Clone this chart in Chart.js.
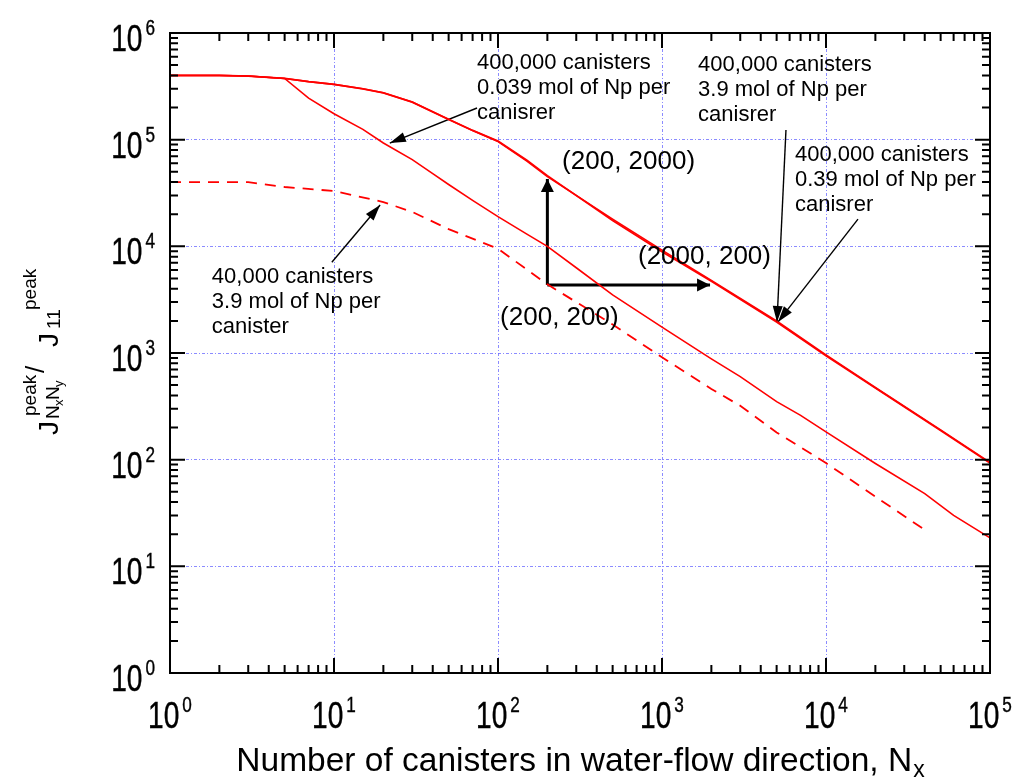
<!DOCTYPE html>
<html>
<head>
<meta charset="utf-8">
<script src="https://cdn.jsdelivr.net/npm/chart.js@4.4.1/dist/chart.umd.min.js"></script>
<style>
	html, body { margin: 0; padding: 0; background: #fff; }
	#wrap { width: 1015px; height: 777px; }
</style>
</head>
<body>
<div id="wrap"><canvas id="chart"></canvas></div>
<script>
// Peak release ratio vs. number of canisters along the water-flow direction
const nxHigh = [1, 2, 3, 5, 7, 10, 15, 20, 30, 50, 70, 100, 150, 200, 500, 1000, 2000, 5000, 10000, 20000, 50000, 100000]
const peak400k_3_9 = [4.0e5, 4.0e5, 3.95e5, 3.75e5, 3.5e5, 3.3e5, 3.0e5, 2.75e5, 2.25e5, 1.55e5, 1.22e5, 9.7e4, 6.4e4, 4.6e4, 1.75e4, 8.9e3, 4.7e3, 1.95e3, 940, 470, 188, 93]
const peak400k_0_39 = [4.0e5, 4.0e5, 3.95e5, 3.75e5, 3.5e5, 3.3e5, 3.0e5, 2.75e5, 2.25e5, 1.55e5, 1.22e5, 9.6e4, 6.3e4, 4.5e4, 1.8e4, 9.2e3, 4.8e3, 2.0e3, 960, 475, 190, 94]

const nxLow = [1, 2, 3, 5, 7, 10, 15, 20, 30, 40, 50, 70, 100, 150, 200, 300, 500, 1000, 2000, 3000, 5000, 7000, 10000, 20000, 40000, 60000, 100000]
const peak400k_0_039 = [4.0e5, 4.0e5, 3.95e5, 3.75e5, 2.45e5, 1.75e5, 1.25e5, 9.3e4, 6.5e4, 4.8e4, 3.8e4, 2.7e4, 1.9e4, 1.3e4, 1.0e4, 6.3e3, 3.5e3, 1.75e3, 880, 600, 350, 260, 182, 92, 48, 30, 18.5]

const nx40k = [1, 3, 5, 10, 20, 30, 50, 100, 200, 500, 1000, 2000, 3000, 5000, 10000, 20000, 40000]
const peak40k_3_9 = [4.0e4, 4.0e4, 3.6e4, 3.3e4, 2.6e4, 2.1e4, 1.45e4, 9.5e3, 4.4e3, 1.85e3, 910, 460, 320, 180, 93, 45, 22]

const xTickValues = [1, 10, 100, 1000, 10000, 100000]
const yTickValues = [1, 10, 100, 1000, 10000, 100000, 1000000]

// callouts: text lines, anchored at [Nx, J] of the first line (left edge)
const noteLines = [
	['400,000 canisters', '0.039 mol of Np per', 'canisrer'],
	['400,000 canisters', '3.9 mol of Np per', 'canisrer'],
	['400,000 canisters', '0.39 mol of Np per', 'canisrer'],
	['40,000 canisters', '3.9 mol of Np per', 'canister'],
]
const noteAnchors = [[74.5, 5.2e5], [1660, 5.0e5], [6470, 7.2e4], [1.8, 5160]]
const pairLabels = ['(200, 2000)', '(2000, 200)', '(200, 200)']
const pairAnchors = [[246, 6.2e4], [714, 7.9e3], [103, 2130]]

// leader arrows: [from, to] in data space
const leaderArrows = [
	[[74.5, 1.98e5], [21.9, 9.3e4]],
	[[5700, 1.23e5], [5025, 1955]],
	[[15670, 1.8e4], [5100, 1955]],
	[[9.7, 7.1e3], [19.1, 2.44e4]],
]
const stepArrows = [
	[[200, 4340], [200, 4.28e4]],
	[[200, 4340], [1963, 4340]],
]

const FONT = '"Liberation Sans", Arial, Helvetica, sans-serif'
const zip = (xs, ys) => xs.map((x, i) => ({ x, y: ys[i] }))
const seg = (pair) => pair.map(([x, y]) => ({ x, y }))

const datasets = [
	{ data: zip(nxLow, peak400k_0_039), borderColor: '#ff0000', borderWidth: 1.6 },
	{ data: zip(nx40k, peak40k_3_9), borderColor: '#ff0000', borderWidth: 1.8, borderDash: [11, 8] },
	{ data: zip(nxHigh, peak400k_0_39), borderColor: '#ff0000', borderWidth: 1.6 },
	{ data: zip(nxHigh, peak400k_3_9), borderColor: '#ff0000', borderWidth: 1.8 },
]
leaderArrows.forEach((a) => {
	datasets.push({ data: seg(a), borderColor: '#000', borderWidth: 1.4, arrow: { len: 16, half: 5 } })
})
stepArrows.forEach((a) => {
	datasets.push({ data: seg(a), borderColor: '#000', borderWidth: 3, arrow: { len: 13, half: 6.5 } })
})
datasets.forEach((d) => {
	d.pointRadius = 0
	d.tension = 0
	d.fill = false
})

const SQUEEZE = 0.78

function powLabel(ctx, exp, x, y, align) {
	ctx.save()
	ctx.font = `36px ${FONT}`
	const wBase = ctx.measureText('10').width * SQUEEZE
	ctx.font = `22px ${FONT}`
	const wExp = ctx.measureText(String(exp)).width * SQUEEZE
	const gap = 3
	const total = wBase + gap + wExp
	const left = align === 'center' ? x - total / 2 : x - total
	ctx.translate(left, y)
	ctx.scale(SQUEEZE, 1)
	ctx.fillStyle = '#000'
	ctx.strokeStyle = '#000'
	ctx.lineWidth = 0.4
	ctx.textAlign = 'left'
	ctx.textBaseline = 'alphabetic'
	ctx.font = `36px ${FONT}`
	ctx.fillText('10', 0, 0)
	ctx.strokeText('10', 0, 0)
	ctx.font = `22px ${FONT}`
	ctx.fillText(String(exp), (wBase + gap) / SQUEEZE, -16)
	ctx.strokeText(String(exp), (wBase + gap) / SQUEEZE, -16)
	ctx.restore()
}

function drawArrowHead(ctx, p0, p1, len, half, color) {
	const ang = Math.atan2(p1.y - p0.y, p1.x - p0.x)
	ctx.save()
	ctx.translate(p1.x, p1.y)
	ctx.rotate(ang)
	ctx.fillStyle = color
	ctx.beginPath()
	ctx.moveTo(0, 0)
	ctx.lineTo(-len, -half)
	ctx.lineTo(-len, half)
	ctx.closePath()
	ctx.fill()
	ctx.restore()
}

const framePlugin = {
	id: 'frame',
	afterDatasetsDraw(chart) {
		const { ctx, chartArea: a, scales } = chart
		const xs = scales.x
		const ys = scales.y

		// arrow heads on the annotation segments
		chart.data.datasets.forEach((d, i) => {
			if (!d.arrow) return
			const pts = chart.getDatasetMeta(i).data
			drawArrowHead(ctx, pts[0], pts[1], d.arrow.len, d.arrow.half, d.borderColor)
		})

		// box and inward ticks on all four sides
		ctx.save()
		ctx.strokeStyle = '#000'
		ctx.lineWidth = 2
		ctx.strokeRect(a.left, a.top, a.right - a.left, a.bottom - a.top)
		ctx.beginPath()
		for (let k = 0; k < 5; k++) {
			for (let m = 1; m <= 9; m++) {
				const px = xs.getPixelForValue(m * Math.pow(10, k))
				const len = m === 1 ? 15 : 8
				ctx.moveTo(px, a.bottom)
				ctx.lineTo(px, a.bottom - len)
				ctx.moveTo(px, a.top)
				ctx.lineTo(px, a.top + len)
			}
		}
		for (let k = 0; k < 6; k++) {
			for (let m = 1; m <= 9; m++) {
				const py = ys.getPixelForValue(m * Math.pow(10, k))
				const len = m === 1 ? 15 : 8
				ctx.moveTo(a.left, py)
				ctx.lineTo(a.left + len, py)
				ctx.moveTo(a.right, py)
				ctx.lineTo(a.right - len, py)
			}
		}
		ctx.stroke()
		ctx.restore()

		// tick labels
		xTickValues.forEach((v) => {
			powLabel(ctx, Math.round(Math.log10(v)), xs.getPixelForValue(v), a.bottom + 55, 'center')
		})
		yTickValues.forEach((v) => {
			powLabel(ctx, Math.round(Math.log10(v)), a.left - 15, ys.getPixelForValue(v) + 18, 'right')
		})

		ctx.save()
		ctx.fillStyle = '#000'
		ctx.textBaseline = 'alphabetic'
		ctx.textAlign = 'left'

		// x axis title with subscript
		const title = 'Number of canisters in water-flow direction, N'
		ctx.font = `33.5px ${FONT}`
		const wt = ctx.measureText(title).width
		ctx.font = `23px ${FONT}`
		const ws = ctx.measureText('x').width
		const tx = (a.left + a.right) / 2 - (wt + ws) / 2
		ctx.font = `33.5px ${FONT}`
		ctx.fillText(title, tx, a.bottom + 98)
		ctx.font = `23px ${FONT}`
		ctx.fillText('x', tx + wt + 1, a.bottom + 104)

		// y axis title: J^peak_{NxNy} / J^peak_11, rotated
		ctx.save()
		ctx.translate(58, (a.top + a.bottom) / 2 + 82)
		ctx.rotate(-Math.PI / 2)
		ctx.font = `28px ${FONT}`
		ctx.fillText('J', 0, 0)
		ctx.font = `19px ${FONT}`
		ctx.fillText('peak', 19, -22)
		ctx.fillText('N', 16, 1)
		ctx.fillText('N', 35, 1)
		ctx.font = `13px ${FONT}`
		ctx.fillText('x', 29, 5)
		ctx.fillText('y', 48, 5)
		ctx.font = `26px ${FONT}`
		ctx.fillText('/', 62, -14)
		ctx.font = `28px ${FONT}`
		ctx.fillText('J', 88, 0)
		ctx.font = `19px ${FONT}`
		ctx.fillText('11', 106, 2)
		ctx.fillText('peak', 125, -22)
		ctx.restore()

		// callout texts
		ctx.textBaseline = 'middle'
		ctx.font = `22px ${FONT}`
		noteLines.forEach((lines, i) => {
			const [nx, j] = noteAnchors[i]
			const px = xs.getPixelForValue(nx)
			const py = ys.getPixelForValue(j)
			lines.forEach((s, r) => ctx.fillText(s, px, py + r * 25))
		})
		ctx.font = `26px ${FONT}`
		pairLabels.forEach((s, i) => {
			const [nx, j] = pairAnchors[i]
			ctx.fillText(s, xs.getPixelForValue(nx), ys.getPixelForValue(j))
		})
		ctx.restore()
	},
}

new Chart(document.getElementById('chart'), {
	type: 'line',
	data: { datasets },
	options: {
		responsive: true,
		maintainAspectRatio: false,
		animation: false,
		layout: { padding: { top: 33, right: 25, left: 0, bottom: 0 } },
		plugins: {
			legend: { display: false },
			tooltip: { enabled: false },
		},
		scales: {
			x: {
				type: 'logarithmic',
				min: 1,
				max: 100000,
				afterBuildTicks: (s) => {
					s.ticks = xTickValues.map((v) => ({ value: v }))
				},
				afterFit: (s) => {
					s.height = 104
				},
				ticks: { display: false },
				grid: { color: 'rgba(110,110,255,0.8)', lineWidth: 1, drawTicks: false },
				border: { display: false, dash: [3, 2, 1, 2] },
			},
			y: {
				type: 'logarithmic',
				min: 1,
				max: 1000000,
				afterBuildTicks: (s) => {
					s.ticks = yTickValues.map((v) => ({ value: v }))
				},
				afterFit: (s) => {
					s.width = 170
				},
				ticks: { display: false },
				grid: { color: 'rgba(110,110,255,0.8)', lineWidth: 1, drawTicks: false },
				border: { display: false, dash: [3, 2, 1, 2] },
			},
		},
	},
	plugins: [framePlugin],
})
</script>
</body>
</html>
